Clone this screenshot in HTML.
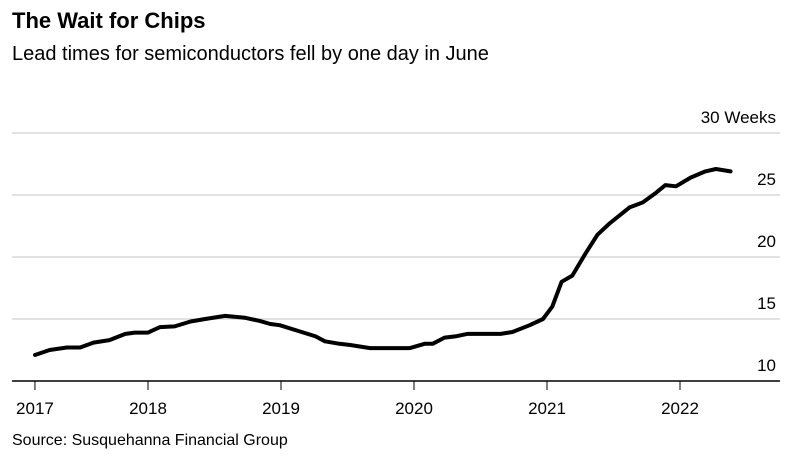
<!DOCTYPE html>
<html><head><meta charset="utf-8"><style>
body{margin:0;background:#fff;width:807px;height:453px;overflow:hidden;font-family:"Liberation Sans",sans-serif}
</style></head><body>
<svg width="807" height="453" xmlns="http://www.w3.org/2000/svg" font-family="Liberation Sans, sans-serif">
<text x="12" y="28" font-size="22" font-weight="bold" fill="#000">The Wait for Chips</text>
<text x="12" y="60" font-size="20" fill="#000">Lead times for semiconductors fell by one day in June</text>
<g id="grid"></g>
<g id="xaxis"></g>
<path id="line" fill="none" stroke="#000" stroke-width="4" stroke-linejoin="round" stroke-linecap="round"/>
<text x="12" y="445" font-size="16" fill="#000">Source: Susquehanna Financial Group</text>
</svg>
<script>
const dates=[2017.15,2017.26,2017.39,2017.49,2017.59,2017.71,2017.83,2017.90,2018.0,2018.09,2018.20,2018.32,2018.43,2018.58,2018.73,2018.84,2018.92,2018.99,2019.14,2019.26,2019.33,2019.44,2019.52,2019.67,2019.97,2020.08,2020.14,2020.23,2020.31,2020.40,2020.65,2020.74,2020.87,2020.97,2021.04,2021.11,2021.19,2021.29,2021.38,2021.47,2021.62,2021.72,2021.81,2021.89,2021.97,2022.08,2022.19,2022.27,2022.38];
const weeks=[12.1,12.5,12.7,12.7,13.1,13.3,13.8,13.9,13.9,14.35,14.4,14.8,15.0,15.25,15.1,14.85,14.6,14.5,14.0,13.6,13.2,13.0,12.9,12.65,12.65,13.0,13.0,13.5,13.6,13.8,13.8,13.95,14.5,15.0,16.0,18.0,18.5,20.3,21.8,22.7,24.0,24.4,25.1,25.8,25.7,26.4,26.9,27.1,26.9];
const yTicks=[10,15,20,25,30];
const xTickDates=[2017.15,2018,2019,2020,2021,2022];
const xTickLabels=["2017","2018","2019","2020","2021","2022"];
const NS="http://www.w3.org/2000/svg";
const x=t=>148+(t-2018)*133;
const y=v=>381-(v-10)*12.4;
const grid=document.getElementById('grid'),xa=document.getElementById('xaxis');
function mk(tag,attrs,parent){const e=document.createElementNS(NS,tag);for(const k in attrs)e.setAttribute(k,attrs[k]);parent.appendChild(e);return e;}
yTicks.forEach(v=>{
  if(v>10){const l=mk('line',{x1:12,x2:780,y1:y(v),y2:y(v),stroke:'#d9d9d9','stroke-width':1.5},grid);
  
  }
  const t=mk('text',{x:776,y:y(v)-10,'text-anchor':'end','font-size':17,fill:'#000'},grid);
  t.textContent=v===30?'30 Weeks':String(v);
  
  
});
const base=mk('line',{x1:12,x2:780,y1:381,y2:381,stroke:'#000','stroke-width':1.5},xa);


xTickDates.forEach((d,i)=>{
  const tk=mk('line',{x1:x(d),x2:x(d),y1:381,y2:390,stroke:'#000','stroke-width':1},xa);
  
  
  const t=mk('text',{x:x(d),y:414,'text-anchor':'middle','font-size':17,fill:'#000'},xa);
  t.textContent=xTickLabels[i];
  
  
});
document.getElementById('line').setAttribute('d',dates.map((d,i)=>(i?'L':'M')+x(d).toFixed(1)+','+y(weeks[i]).toFixed(1)).join(''));
</script>
</body></html>
